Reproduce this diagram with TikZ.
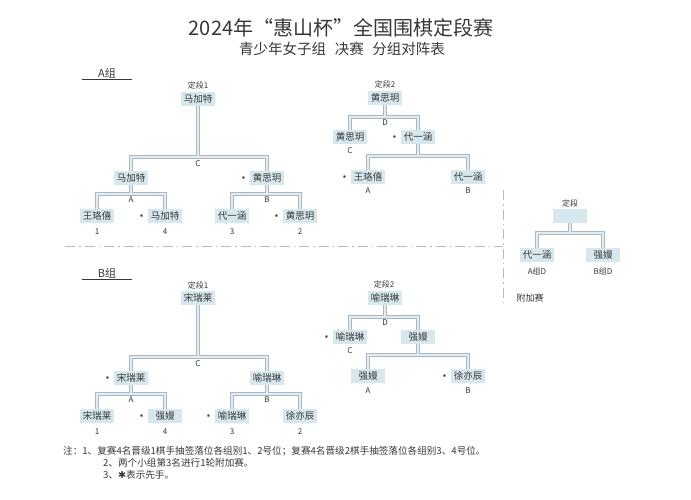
\documentclass[tikz,border=0pt]{standalone}
\usepackage{fontspec}
\setmainfont{Noto Sans CJK SC}
\newfontfamily\symfont{DejaVu Sans}
\usepackage{xcolor}
\usepackage{tikz}
\definecolor{boxblue}{RGB}{214,232,238}
\definecolor{pipeline}{RGB}{168,184,196}
\definecolor{pipefill}{RGB}{228,236,241}
\definecolor{inkgray}{RGB}{55,55,55}

\begin{document}
\begin{tikzpicture}[x=1pt, y=-1pt,%
% common options for the name boxes:
player/.style = {fill=boxblue, text=inkgray, font=\fontsize{9.5}{9.5}\selectfont,
            minimum width=34pt, minimum height=14pt, inner sep=0},
% marker for the player who moves first:
first/.style = {label={[font=\symfont\fontsize{4}{4}\selectfont, text=inkgray, label distance=1pt]left:✱}},
% common options for small labels and the tree lines:
tag/.style = {text=inkgray, font=\fontsize{8}{8}\selectfont, inner sep=0},
head/.style = {text=inkgray, font=\fontsize{11}{11}\selectfont, minimum width=50pt, inner sep=1pt},
pipe/.style = {draw=pipeline, double=pipefill, double distance=1.6pt, line width=0.9pt},
sep/.style = {draw=gray!55, line width=0.6pt, dash pattern=on 10pt off 4pt on 1.5pt off 4pt}]
\useasboundingbox (0,0) rectangle (691,500);
\node[text=inkgray, font=\fontsize{20}{20}\selectfont] (T1) at (341,28) {2024年“惠山杯”全国围棋定段赛};
\node[text=inkgray, font=\fontsize{14.5}{14.5}\selectfont] (T2) at (342,49) {青少年女子组\hspace{0.6em}决赛\hspace{0.6em}分组对阵表};
% group A
\node[head] (GA) at (107,73) {A组};
\draw[inkgray, line width=0.6pt] (GA.south west) to (GA.south east);
\node[tag] (LA0) at (198,85) {定段1};
\node[player] (A0) at (198,99) {马加特};
\node[player] (A1) at (131,178) {马加特};
\node[player,first] (A2) at (267,178) {黄思玥};
\node[player] (A3) at (97,216) {王珞僖};
\node[player,first] (A4) at (165,216) {马加特};
\node[player] (A5) at (232,216) {代一涵};
\node[player,first] (A6) at (300,216) {黄思玥};
\coordinate (jA0) at (198,157);
\coordinate (jA1) at (131,194);
\coordinate (jA2) at (267,194);
\draw[pipe] (A0.south) -- (jA0) -| (A1.north) (jA0) -| (A2.north);
\draw[pipe] (A1.south) -- (jA1) -| (A3.north) (jA1) -| (A4.north);
\draw[pipe] (A2.south) -- (jA2) -| (A5.north) (jA2) -| (A6.north);
\node[tag] at (198,164) {C};
\node[tag] at (131,200) {A};
\node[tag] at (267,200) {B};
\node[tag] at (97,232) {1};
\node[tag] at (165,232) {4};
\node[tag] at (232,232) {3};
\node[tag] at (300,232) {2};
\node[tag] (LD0) at (385,84) {定段2};
\node[player] (D0) at (385,98) {黄思玥};
\node[player] (D1) at (350,137) {黄思玥};
\node[player,first] (D2) at (418,137) {代一涵};
\node[player,first] (D3) at (368,177) {王珞僖};
\node[player] (D4) at (468,177) {代一涵};
\coordinate (jD0) at (385,117);
\coordinate (jD2) at (418,156);
\draw[pipe] (D0.south) -- (jD0) -| (D1.north) (jD0) -| (D2.north);
\draw[pipe] (D2.south) -- (jD2) -| (D3.north) (jD2) -| (D4.north);
\node[tag] at (385,123) {D};
\node[tag] at (350,151) {C};
\node[tag] at (368,191) {A};
\node[tag] at (468,191) {B};
% play-off
\draw[sep] (65,246) -- (503,246);
\draw[sep] (503,190) -- (503,305);
\node[tag] (LE0) at (570,203) {定段};
\node[player] (E0) at (570,216) {};
\node[player] (E1) at (537,255) {代一涵};
\node[player] (E2) at (603,255) {强嫚};
\coordinate (jE0) at (570,233);
\draw[pipe] (E0.south) -- (jE0) -| (E1.north) (jE0) -| (E2.north);
\node[tag] at (537,271) {A组D};
\node[tag] at (603,271) {B组D};
\node[tag, font=\fontsize{9}{9}\selectfont] at (530,298) {附加赛};
% group B
\node[head] (GB) at (107,273) {B组};
\draw[inkgray, line width=0.6pt] (GB.south west) to (GB.south east);
\node[tag] (LB0) at (198,285) {定段1};
\node[player] (B0) at (198,298) {宋瑞莱};
\node[player,first] (B1) at (131,378) {宋瑞莱};
\node[player] (B2) at (267,378) {喻瑞琳};
\node[player] (B3) at (97,416) {宋瑞莱};
\node[player,first] (B4) at (165,416) {强嫚};
\node[player,first] (B5) at (232,416) {喻瑞琳};
\node[player] (B6) at (300,416) {徐亦辰};
\coordinate (jB0) at (198,357);
\coordinate (jB1) at (131,394);
\coordinate (jB2) at (267,394);
\draw[pipe] (B0.south) -- (jB0) -| (B1.north) (jB0) -| (B2.north);
\draw[pipe] (B1.south) -- (jB1) -| (B3.north) (jB1) -| (B4.north);
\draw[pipe] (B2.south) -- (jB2) -| (B5.north) (jB2) -| (B6.north);
\node[tag] at (198,364) {C};
\node[tag] at (131,400) {A};
\node[tag] at (267,400) {B};
\node[tag] at (97,432) {1};
\node[tag] at (165,432) {4};
\node[tag] at (232,432) {3};
\node[tag] at (300,432) {2};
\node[tag] (LF0) at (384,284) {定段2};
\node[player] (F0) at (385,298) {喻瑞琳};
\node[player,first] (F1) at (350,337) {喻瑞琳};
\node[player] (F2) at (418,337) {强嫚};
\node[player] (F3) at (368,376) {强嫚};
\node[player,first] (F4) at (468,376) {徐亦辰};
\coordinate (jF0) at (385,317);
\coordinate (jF2) at (418,355);
\draw[pipe] (F0.south) -- (jF0) -| (F1.north) (jF0) -| (F2.north);
\draw[pipe] (F2.south) -- (jF2) -| (F3.north) (jF2) -| (F4.north);
\node[tag] at (385,323) {D};
\node[tag] at (350,351) {C};
\node[tag] at (368,391) {A};
\node[tag] at (468,391) {B};
% notes
\node[tag, anchor=west, font=\fontsize{9.6}{9.6}\selectfont] (N1) at (63,451) {注：1、复赛4名晋级1棋手抽签落位各组别1、2号位；复赛4名晋级2棋手抽签落位各组别3、4号位。};
\node[tag, anchor=west, font=\fontsize{9.6}{9.6}\selectfont] (N2) at (103,463) {2、两个小组第3名进行1轮附加赛。};
\node[tag, anchor=west, font=\fontsize{9.6}{9.6}\selectfont] (N3) at (103,475) {3、{\symfont ✱}表示先手。};
\end{tikzpicture}
\end{document}
